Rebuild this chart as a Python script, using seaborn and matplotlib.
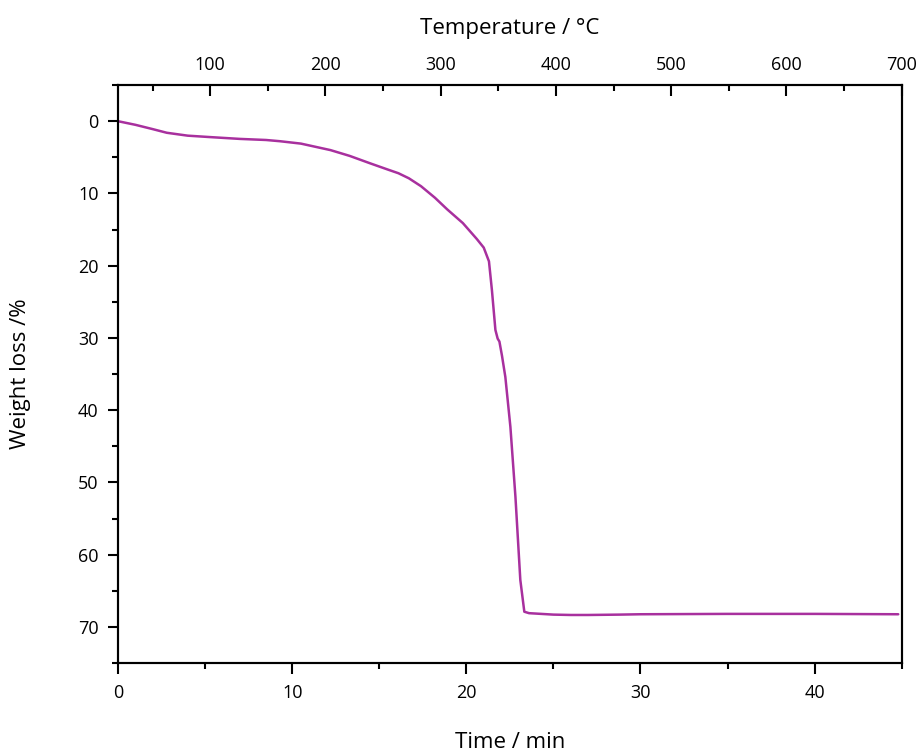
import numpy as np
import pandas as pd
import seaborn as sns
import matplotlib
matplotlib.use("Agg")
import matplotlib.pyplot as plt
from matplotlib.ticker import MultipleLocator

# TGA curve
time_min = [0, 1, 2, 2.8, 4, 5.3, 7, 8.5, 9.3, 10.5, 12.2, 13.3, 14.5, 15.5, 16.1,
            16.7, 17.4, 18.2, 18.9, 19.8, 20.6, 21.0, 21.3, 21.47, 21.67, 21.8,
            21.9, 22.05, 22.24, 22.53, 22.82, 23.1, 23.33, 23.6, 25, 26, 27, 28.8,
            30, 35, 40, 44.8]
weight_loss = [0, 0.5, 1.1, 1.6, 2.0, 2.2, 2.45, 2.6, 2.77, 3.1, 4.0, 4.8, 5.85,
               6.7, 7.2, 7.9, 9.0, 10.6, 12.2, 14.1, 16.3, 17.5, 19.4, 23.4, 28.9,
               30.1, 30.5, 32.5, 35.4, 42.3, 52, 63.5, 67.9, 68.1, 68.3, 68.35,
               68.35, 68.3, 68.25, 68.2, 68.2, 68.25]

time_lim = (0, 45)
temp_lim = (20, 700)
y_lim = (75, -5)

df = pd.DataFrame({"Time": time_min, "Weight": weight_loss})

sns.set_style("ticks")
plt.rcParams['font.family'] = ['Open Sans', 'DejaVu Sans']
for key in ["text.color", "axes.labelcolor", "xtick.color", "ytick.color"]:
    plt.rcParams[key] = "black"

fig = plt.figure(figsize=(9.22, 7.53), dpi=100)
ax = fig.add_axes([0.128, 0.1195, 0.85, 0.7675])

sns.lineplot(data=df, x="Time", y="Weight", ax=ax, color="#A8309E",
             linewidth=1.8, estimator=None, sort=False)

ax.set_xlim(*time_lim)
ax.set_ylim(*y_lim)
ax.xaxis.set_major_locator(MultipleLocator(10))
ax.xaxis.set_minor_locator(MultipleLocator(5))
ax.yaxis.set_major_locator(MultipleLocator(10))
ax.yaxis.set_minor_locator(MultipleLocator(5))
ax.tick_params(which="major", direction="out", length=8, width=1.5,
               labelsize=13, pad=7, color="black")
ax.tick_params(which="minor", direction="out", length=4, width=1.5, color="black")
ax.tick_params(axis="y", which="major", length=7)
ax.tick_params(right=False, top=False, which="both")
ax.set_xlabel("Time / min", fontsize=16, labelpad=22)
ax.set_ylabel("Weight loss /%", fontsize=16, labelpad=34)

for s in ax.spines.values():
    s.set_visible(True)
    s.set_linewidth(1.5)
    s.set_color("black")

ax2 = ax.twiny()
ax2.set_xlim(*temp_lim)
ax2.xaxis.set_major_locator(MultipleLocator(100))
ax2.xaxis.set_minor_locator(MultipleLocator(50))
ax2.tick_params(which="major", direction="in", length=8, width=1.5,
                labelsize=13, pad=8)
ax2.tick_params(which="minor", direction="in", length=4, width=1.5)
ax2.set_xlabel("Temperature / °C", fontsize=16, labelpad=16)
for s in ax2.spines.values():
    s.set_linewidth(1.5)
    s.set_color("black")

fig.savefig("out.png", dpi=100)
